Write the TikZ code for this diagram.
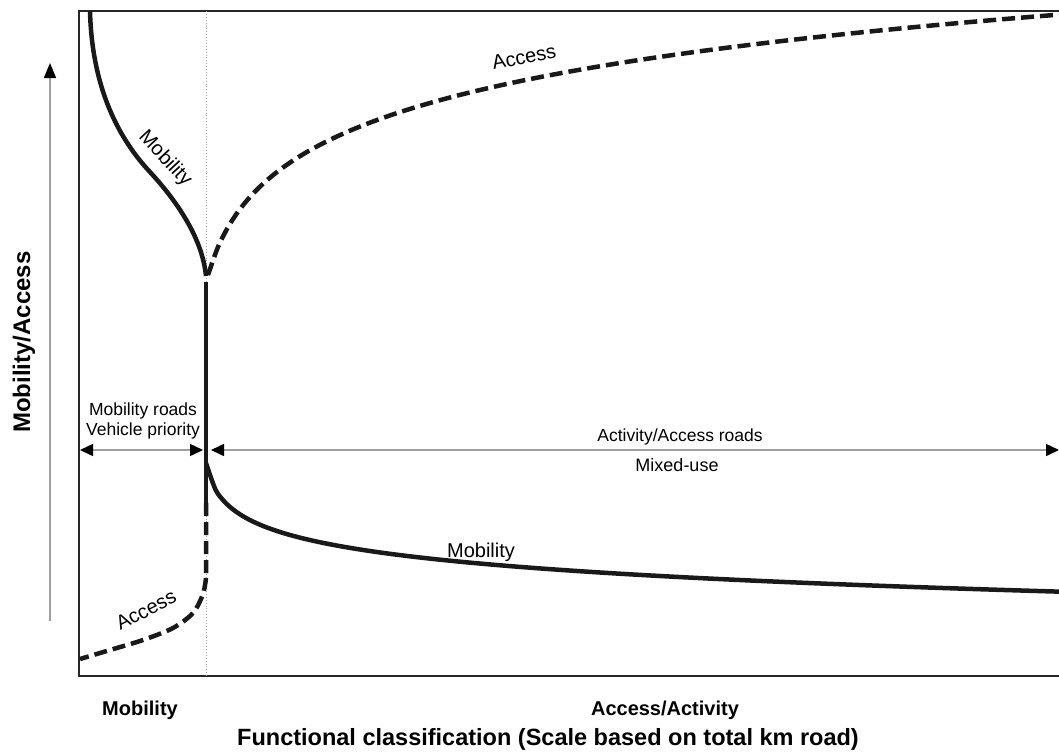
\documentclass[tikz,border=0pt]{standalone}
\usepackage{fontspec}
\setmainfont{Liberation Sans}
\usetikzlibrary{arrows.meta}

\begin{document}
\begin{tikzpicture}[
                x=1pt, y=-1pt,
                frame/.style={draw=black!85, line width=2pt},
                guide/.style={draw=gray!70, line width=0.9pt, dotted},
                mobline/.style={draw=black!90, line width=4.5pt},
                accline/.style={draw=black!90, line width=4.5pt, dash pattern=on 13pt off 6pt},
                span/.style={draw=gray!75, line width=1.5pt, {Triangle[length=13pt,width=12pt,color=black]}-{Triangle[length=13pt,width=12pt,color=black]}},
                yaxis/.style={draw=gray!75, line width=1.5pt, -{Triangle[length=15pt,width=12pt,color=black]}},
                lbl/.style={font=\fontsize{17.5}{20}\selectfont, inner sep=0pt, anchor=base},
                curvelbl/.style={font=\fontsize{20}{24}\selectfont, inner sep=0pt},
                axislbl/.style={font=\bfseries\fontsize{20}{24}\selectfont, inner sep=0pt, anchor=base}
            ]
                \useasboundingbox (0,0) rectangle (1059,753);

                % frame and split line
                \draw[frame] (1059,11) -- (79,11) -- (79,676) -- (1059,676);
                \coordinate (splittop) at (206,11);
                \coordinate (splitbot) at (206,676);
                \draw[guide] (splittop) -- (splitbot);

                % curves
                \draw[mobline] (90,11) .. controls (92,90) and (120,140) .. (150,172) .. controls (185,210) and (203,245) .. (206,276);
                \draw[accline] plot[domain=0:853, samples=90, smooth] ({208+\x}, {275-69*ln(1+\x/20)});
                \draw[mobline] (206,282) -- (206,503);
                \draw[mobline] plot[domain=0:853, samples=90, smooth] ({206+\x}, {463+25*ln(1+\x/5)});
                \draw[accline] (206,503) -- (206,578) plot[smooth] coordinates {(206,578) (203,594) (193,613) (173,628) (143,640) (110,650) (80,659)};

                % spans
                \coordinate (lspanl) at (80,450);
                \coordinate (lspanr) at (203,450);
                \coordinate (rspanl) at (211,450);
                \coordinate (rspanr) at (1059,450);
                \draw[span] (lspanl) -- (lspanr);
                \draw[span] (rspanl) -- (rspanr);

                % y axis
                \coordinate (ybot) at (50,621);
                \coordinate (ytop) at (50,63);
                \draw[yaxis] (ybot) -- (ytop);

                % labels
                \node[curvelbl, rotate=-47] (mobup) at (165,159) {Mobility};
                \node[curvelbl, rotate=11] (accup) at (524,57) {Access};
                \node[curvelbl, rotate=27] (acclow) at (146,610) {Access};
                \node[curvelbl, anchor=base] (moblow) at (481,557) {Mobility};
                \node[lbl] (mobroads) at (143,415) {Mobility roads};
                \node[lbl] (vehprio) at (143,435) {Vehicle priority};
                \node[lbl] (actroads) at (680,441) {Activity/Access roads};
                \node[lbl, font=\fontsize{18}{20}\selectfont] (mixed) at (677,471) {Mixed-use};

                \node[axislbl] (xmob) at (140,715) {Mobility};
                \node[axislbl] (xacc) at (665,715) {Access/Activity};
                \node[axislbl, font=\bfseries\fontsize{23.5}{28}\selectfont] (xtitle) at (548,745) {Functional classification (Scale based on total km road)};
                \node[font=\bfseries\fontsize{24}{28}\selectfont, inner sep=0pt, rotate=90] (ytitle) at (24,342) {Mobility/Access};
            \end{tikzpicture}
\end{document}
